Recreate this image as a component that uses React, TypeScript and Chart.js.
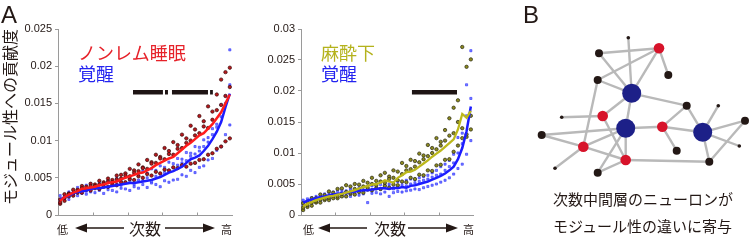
import React, { useEffect, useRef } from "react";
import { Chart, registerables } from "chart.js";

Chart.register(...registerables);

// ---------- data ----------
const N = 40;
const yTicksLeft = ["0", "0.005", "0.01", "0.015", "0.02", "0.025"];
const yTicksRight = ["0", "0.005", "0.01", "0.015", "0.02", "0.025", "0.03"];
const xTickValues = [20, 40, 60, 80];

// Left: NREM sleep vs wake (mean lines)
const nremLine = [0.0019, 0.0024, 0.0027, 0.003, 0.0032, 0.0035, 0.0036, 0.0037, 0.0038, 0.004, 0.0041, 0.0043, 0.0044, 0.0045, 0.0048, 0.005, 0.0052, 0.0054, 0.0056, 0.0057, 0.006, 0.0063, 0.0067, 0.007, 0.0073, 0.0076, 0.0078, 0.0083, 0.0088, 0.0093, 0.0097, 0.0102, 0.0107, 0.011, 0.0116, 0.0122, 0.013, 0.0138, 0.015, 0.0162];
const wakeLineL = [0.0021, 0.0024, 0.0026, 0.0029, 0.0031, 0.0032, 0.0033, 0.0035, 0.0036, 0.0036, 0.0037, 0.0038, 0.0039, 0.004, 0.0041, 0.0042, 0.0043, 0.0043, 0.0044, 0.0045, 0.0046, 0.0047, 0.0049, 0.0051, 0.0054, 0.0057, 0.0059, 0.0062, 0.0065, 0.007, 0.0075, 0.0077, 0.008, 0.0086, 0.0093, 0.0102, 0.0112, 0.0125, 0.0145, 0.0163];
// Left: individual values
const nremA = [0.0021, 0.0028, 0.0029, 0.0034, 0.0034, 0.0039, 0.0038, 0.0042, 0.0041, 0.0046, 0.0044, 0.0049, 0.0047, 0.0053, 0.0054, 0.0056, 0.0062, 0.006, 0.0068, 0.0064, 0.0074, 0.0071, 0.0081, 0.0078, 0.009, 0.0086, 0.0098, 0.0094, 0.0108, 0.0103, 0.012, 0.0115, 0.0133, 0.0126, 0.0146, 0.0139, 0.0162, 0.0182, 0.0192, 0.0198];
const nremB = [0.0015, 0.0019, 0.0025, 0.0026, 0.003, 0.003, 0.0034, 0.0033, 0.0036, 0.0035, 0.0038, 0.0038, 0.0041, 0.004, 0.0044, 0.0044, 0.0048, 0.0047, 0.0052, 0.005, 0.0055, 0.0053, 0.0058, 0.0056, 0.0061, 0.006, 0.0064, 0.0063, 0.0067, 0.0065, 0.0069, 0.007, 0.0074, 0.0075, 0.0081, 0.0083, 0.0089, 0.0092, 0.0099, 0.0103];
const nremC = [0.0017, 0.0023, 0.0028, 0.0029, 0.0032, 0.0036, 0.0035, 0.0039, 0.0039, 0.0041, 0.0042, 0.0045, 0.0044, 0.0048, 0.0049, 0.0053, 0.0052, 0.0057, 0.0059, 0.0063, 0.0062, 0.0069, 0.007, 0.0076, 0.0075, 0.0082, 0.0081, 0.0089, 0.009, 0.0097, 0.01, 0.0107, 0.011, 0.0119, 0.0117, 0.0128, 0.0141, 0.0148, 0.016, 0.0172];
const wakeLA = [0.0026, 0.0027, 0.0031, 0.0032, 0.0037, 0.0036, 0.004, 0.0042, 0.0039, 0.0044, 0.0041, 0.0046, 0.0044, 0.0049, 0.0047, 0.0052, 0.005, 0.0055, 0.0053, 0.0059, 0.0056, 0.0062, 0.006, 0.0066, 0.0064, 0.0071, 0.0069, 0.0076, 0.0075, 0.0084, 0.0083, 0.0092, 0.0091, 0.0101, 0.0104, 0.0116, 0.0122, 0.0148, 0.016, 0.0222];
const wakeLB = [0.0016, 0.0021, 0.0021, 0.0026, 0.0026, 0.0029, 0.0028, 0.0031, 0.003, 0.0033, 0.0029, 0.0034, 0.0033, 0.0031, 0.0036, 0.0035, 0.0033, 0.0038, 0.0036, 0.0041, 0.0037, 0.0043, 0.0041, 0.0038, 0.0046, 0.0044, 0.0047, 0.0048, 0.0054, 0.0052, 0.006, 0.0057, 0.0064, 0.0066, 0.0074, 0.0076, 0.0087, 0.0092, 0.0108, 0.0121];
const wakeLC = [0.002, 0.0023, 0.0027, 0.0028, 0.003, 0.0034, 0.0032, 0.0036, 0.0037, 0.0035, 0.0039, 0.0037, 0.0041, 0.0042, 0.004, 0.0044, 0.0045, 0.0041, 0.0047, 0.0046, 0.005, 0.0045, 0.0052, 0.0055, 0.0057, 0.006, 0.0064, 0.0067, 0.007, 0.0073, 0.0079, 0.0082, 0.0086, 0.0092, 0.0098, 0.0108, 0.0118, 0.0132, 0.015, 0.0175];
// Left significance bar segments [from, to] on 0-100 degree-rank axis
const sigLeft = [[43.1, 60.3], [61.5, 63.2], [65.5, 86.2], [87.4, 89.0]];
const sigLeftY = 0.0165;

// Right: anesthesia vs wake (mean lines)
const anesLine = [0.0014, 0.0018, 0.0021, 0.0024, 0.0026, 0.0028, 0.003, 0.0031, 0.0033, 0.0034, 0.0036, 0.0038, 0.004, 0.0043, 0.0045, 0.0047, 0.0049, 0.005, 0.0052, 0.0056, 0.0054, 0.0052, 0.006, 0.0064, 0.0069, 0.007, 0.0073, 0.0078, 0.0083, 0.0088, 0.0094, 0.0099, 0.0104, 0.011, 0.0116, 0.0122, 0.0138, 0.0163, 0.0157, 0.0168];
const wakeLineR = [0.002, 0.0023, 0.0025, 0.0027, 0.0029, 0.003, 0.0032, 0.0033, 0.0034, 0.0035, 0.0036, 0.0037, 0.0038, 0.0039, 0.004, 0.004, 0.0041, 0.0042, 0.0043, 0.0043, 0.0042, 0.0044, 0.0043, 0.0045, 0.0044, 0.0047, 0.0048, 0.005, 0.0052, 0.0054, 0.0057, 0.006, 0.0063, 0.0067, 0.0072, 0.0078, 0.009, 0.0108, 0.0135, 0.0175];
// Right: individual values
const anesA = [0.0019, 0.0021, 0.0027, 0.0027, 0.0033, 0.0032, 0.0038, 0.0036, 0.0042, 0.0043, 0.0048, 0.0046, 0.005, 0.0049, 0.0055, 0.0052, 0.006, 0.0055, 0.0064, 0.0068, 0.0062, 0.0072, 0.007, 0.0084, 0.0079, 0.0089, 0.0087, 0.0099, 0.0096, 0.0113, 0.0108, 0.0124, 0.0118, 0.0137, 0.0156, 0.0173, 0.0185, 0.0271, 0.0239, 0.0251];
const anesB = [0.0008, 0.0013, 0.0015, 0.002, 0.002, 0.0024, 0.0024, 0.0027, 0.0027, 0.003, 0.003, 0.0034, 0.0033, 0.0037, 0.0036, 0.0041, 0.004, 0.0043, 0.0042, 0.0047, 0.0044, 0.0049, 0.0048, 0.0054, 0.0053, 0.006, 0.0058, 0.0065, 0.0064, 0.0072, 0.0071, 0.008, 0.0081, 0.0089, 0.009, 0.0102, 0.0112, 0.0124, 0.0126, 0.0138];
const anesC = [0.0012, 0.0016, 0.002, 0.0022, 0.0025, 0.0026, 0.0028, 0.0032, 0.003, 0.0034, 0.0037, 0.0036, 0.0042, 0.004, 0.0046, 0.0044, 0.005, 0.0048, 0.0054, 0.0052, 0.0058, 0.006, 0.0056, 0.0066, 0.0072, 0.0074, 0.0078, 0.0085, 0.009, 0.0095, 0.01, 0.0106, 0.0112, 0.012, 0.0128, 0.0132, 0.015, 0.014, 0.013, 0.016];
const wakeRA = [0.0024, 0.0026, 0.0028, 0.003, 0.0033, 0.0034, 0.0036, 0.0037, 0.0038, 0.004, 0.0039, 0.0042, 0.0041, 0.0044, 0.0045, 0.0043, 0.0047, 0.0046, 0.0049, 0.0048, 0.005, 0.0052, 0.0054, 0.0053, 0.0056, 0.0058, 0.0057, 0.006, 0.0062, 0.0064, 0.0068, 0.0072, 0.0078, 0.0082, 0.0088, 0.0098, 0.0125, 0.0132, 0.021, 0.0265];
const wakeRB = [0.0016, 0.0019, 0.0021, 0.0023, 0.0024, 0.0026, 0.0027, 0.0028, 0.0029, 0.003, 0.0031, 0.003, 0.0033, 0.0032, 0.0034, 0.002, 0.0035, 0.0036, 0.0034, 0.0037, 0.003, 0.0036, 0.0038, 0.0037, 0.0039, 0.004, 0.0042, 0.0041, 0.0044, 0.0046, 0.0048, 0.005, 0.0053, 0.0056, 0.006, 0.0066, 0.0075, 0.0082, 0.0098, 0.012];
const wakeRC = [0.002, 0.0022, 0.0026, 0.0025, 0.0028, 0.0031, 0.003, 0.0034, 0.0032, 0.0036, 0.0035, 0.0038, 0.0036, 0.004, 0.0038, 0.0041, 0.0039, 0.0043, 0.0041, 0.0044, 0.0046, 0.0042, 0.0046, 0.0048, 0.0047, 0.005, 0.0052, 0.0054, 0.0056, 0.0058, 0.0061, 0.0064, 0.0066, 0.0072, 0.0078, 0.0084, 0.01, 0.0115, 0.016, 0.0188];
const sigRight = [[64.5, 90.7]];
const sigRightY = 0.0198;

// Network (panel B)
const nodeX = [128.3, 159, 99, 168.3, 97.7, 131.7, 186.7, 218.3, 102.7, 61.7, 125.7, 162.3, 202.7, 245, 41.7, 83.3, 239.3, 176.7, 125.7, 209.3, 55, 97.7];
const nodeY = [37.7, 48.3, 53.3, 75, 80, 93.3, 105.7, 105.7, 116, 117.3, 128.3, 126.7, 132.3, 120.7, 135, 146.7, 146, 150.7, 160, 161.7, 168.3, 172.7];
const nodeKind = ["leaf", "mid", "low", "low", "low", "hub", "low", "leaf", "mid", "leaf", "hub", "mid", "hub", "low", "low", "mid", "leaf", "low", "mid", "low", "leaf", "low"];
const edges = [[1, 6], [6, 11], [11, 19], [3, 2], [3, 6], [5, 2], [2, 4], [2, 6], [5, 6], [5, 16], [6, 7], [6, 9], [9, 10], [9, 19], [11, 12], [11, 15], [11, 16], [11, 22], [15, 16], [16, 19], [16, 21], [19, 22], [19, 20], [12, 7], [12, 13], [12, 18], [7, 13], [13, 8], [13, 14], [13, 17], [13, 20], [14, 20]];

// ---------- helpers ----------
const xOf = (i: number) => ((i + 0.5) * 100) / N;
const pts = (arr: number[]) => arr.map((v, i) => ({ x: xOf(i), y: v }));
const NUM_FONT = "'Liberation Sans', Arial, sans-serif";
const JP_FONT = "'Noto Sans CJK JP', 'Noto Sans', sans-serif";
const AXIS = "#9a9a9a";
const INK = "#231815";

const arrowPlugin = {
  id: "degreeArrows",
  afterDraw(chart: any) {
    const { ctx, chartArea, scales } = chart;
    ctx.save();
    ctx.strokeStyle = AXIS;
    ctx.lineWidth = 1;
    xTickValues.forEach((v) => {
      const px = Math.round(scales.x.getPixelForValue(v)) + 0.5;
      ctx.beginPath();
      ctx.moveTo(px, chartArea.bottom);
      ctx.lineTo(px, chartArea.bottom - 2.5);
      ctx.stroke();
    });
    const y = chartArea.bottom + 13;
    const l = chartArea.left;
    ctx.strokeStyle = INK;
    ctx.fillStyle = INK;
    ctx.lineWidth = 1.6;
    const head = (tip: number, dir: number) => {
      ctx.beginPath();
      ctx.moveTo(tip, y);
      ctx.lineTo(tip - dir * 12, y - 4.5);
      ctx.lineTo(tip - dir * 12, y + 4.5);
      ctx.closePath();
      ctx.fill();
    };
    ctx.beginPath();
    ctx.moveTo(l + 26, y);
    ctx.lineTo(l + 66, y);
    ctx.moveTo(l + 107, y);
    ctx.lineTo(l + 148, y);
    ctx.stroke();
    head(l + 17, -1);
    head(l + 157, 1);
    ctx.restore();
  },
};

function buildPanel(
  lines: { data: number[]; color: string; width: number }[],
  scatters: { data: number[][]; style: any }[],
  sig: number[][],
  sigY: number,
  yMax: number,
  yLabels: string[],
  axisWidth: number,
  rightPad: number,
  showTitle: boolean
) {
  const datasets: any[] = [];
  lines.forEach((ln) =>
    datasets.push({
      data: pts(ln.data),
      showLine: true,
      borderColor: ln.color,
      borderWidth: ln.width,
      pointRadius: 0,
      fill: false,
    })
  );
  sig.forEach((s) =>
    datasets.push({
      data: [
        { x: s[0], y: sigY },
        { x: s[1], y: sigY },
      ],
      showLine: true,
      borderColor: "#1e1414",
      borderWidth: 4.5,
      pointRadius: 0,
    })
  );
  scatters.forEach((sc) =>
    datasets.push({
      data: sc.data.flatMap((arr) => pts(arr)),
      showLine: false,
      ...sc.style,
    })
  );
  return {
    type: "scatter",
    data: { datasets },
    options: {
      animation: false,
      responsive: false,
      events: [],
      layout: { padding: { top: 29, right: rightPad, left: 0, bottom: 0 }, autoPadding: false },
      plugins: { legend: { display: false }, tooltip: { enabled: false } },
      scales: {
        x: {
          type: "linear",
          min: 0,
          max: 100,
          afterFit: (s: any) => {
            s.height = 25;
          },
          grid: { display: false },
          border: { color: AXIS, width: 1 },
          ticks: { display: false },
        },
        y: {
          type: "linear",
          min: 0,
          max: yMax,
          afterFit: (s: any) => {
            s.width = axisWidth;
          },
          afterBuildTicks: (s: any) => {
            s.ticks = yLabels.map((_, i) => ({ value: i * 0.005 }));
          },
          grid: { drawOnChartArea: false, tickLength: 3, color: AXIS },
          border: { color: AXIS, width: 1 },
          ticks: {
            padding: 3,
            color: INK,
            font: { family: NUM_FONT, size: 11 },
            callback: (_v: any, i: number) => yLabels[i],
          },
          title: {
            display: showTitle,
            text: "モジュール性への貢献度",
            align: "end",
            color: INK,
            font: { family: JP_FONT, size: 16 },
            padding: { top: 0, bottom: 0 },
          },
        },
      },
    },
    plugins: [arrowPlugin],
  };
}

const redDot = { pointStyle: "circle", pointRadius: 1.7, backgroundColor: "#b8181c", borderColor: "#3a0c0c", borderWidth: 0.7 };
const blueDot = { pointStyle: "rect", pointRadius: 1.5, backgroundColor: "#7b86ff", borderColor: "#2a2aff", borderWidth: 0.6 };
const oliveDot = { pointStyle: "circle", pointRadius: 1.7, backgroundColor: "#8c8a1e", borderColor: "#2a2814", borderWidth: 0.7 };

function useChart(ref: React.RefObject<HTMLCanvasElement>, make: () => any) {
  useEffect(() => {
    if (!ref.current) return;
    const chart = new Chart(ref.current, make());
    return () => chart.destroy();
  }, []);
}

function Label(props: { x: number; y: number; size: number; color?: string; font?: string; children: React.ReactNode }) {
  return (
    <span
      style={{
        position: "absolute",
        left: props.x,
        top: props.y,
        fontSize: props.size,
        lineHeight: 1,
        color: props.color || INK,
        fontFamily: props.font || JP_FONT,
        whiteSpace: "nowrap",
      }}
    >
      {props.children}
    </span>
  );
}

export default function App() {
  const leftRef = useRef<HTMLCanvasElement>(null);
  const rightRef = useRef<HTMLCanvasElement>(null);
  const netRef = useRef<HTMLCanvasElement>(null);

  useChart(leftRef, () =>
    buildPanel(
      [
        { data: nremLine, color: "#ff1c1c", width: 2.5 },
        { data: wakeLineL, color: "#1c1cff", width: 2.5 },
      ],
      [
        { data: [nremA, nremB, nremC], style: redDot },
        { data: [wakeLA, wakeLB, wakeLC], style: blueDot },
      ],
      sigLeft,
      sigLeftY,
      0.025,
      yTicksLeft,
      58,
      18,
      true
    )
  );

  useChart(rightRef, () =>
    buildPanel(
      [
        { data: anesLine, color: "#bcb81c", width: 2.3 },
        { data: wakeLineR, color: "#1c1cff", width: 2.5 },
      ],
      [
        { data: [anesA, anesB, anesC], style: oliveDot },
        { data: [wakeRA, wakeRB, wakeRC], style: blueDot },
      ],
      sigRight,
      sigRightY,
      0.03,
      yTicksRight,
      51,
      27,
      false
    )
  );

  useChart(netRef, () => {
    const radius = { hub: 9.5, mid: 5.3, low: 4, leaf: 1.8 } as any;
    const color = { hub: "#1d2088", mid: "#d7132a", low: INK, leaf: INK } as any;
    const edgeSets = edges.map((e) => ({
      data: [
        { x: nodeX[e[0] - 1], y: nodeY[e[0] - 1] },
        { x: nodeX[e[1] - 1], y: nodeY[e[1] - 1] },
      ],
      showLine: true,
      borderColor: "#b9b9b9",
      borderWidth: 2.4,
      pointRadius: 0,
    }));
    return {
      type: "scatter",
      data: {
        datasets: [
          {
            data: nodeX.map((x, i) => ({ x, y: nodeY[i] })),
            pointRadius: nodeKind.map((k) => radius[k]),
            backgroundColor: nodeKind.map((k) => color[k]),
            borderWidth: 0,
          },
          ...edgeSets,
        ],
      },
      options: {
        animation: false,
        responsive: false,
        events: [],
        layout: { padding: 0, autoPadding: false },
        plugins: { legend: { display: false }, tooltip: { enabled: false } },
        scales: {
          x: { type: "linear", min: 0, max: 250, display: false },
          y: { type: "linear", min: 0, max: 240, reverse: true, display: false },
        },
      },
    };
  });

  return (
    <div style={{ position: "fixed", left: 0, top: 0, width: 750, height: 240, background: "#fff", overflow: "hidden" }}>
      <canvas ref={leftRef} width={250} height={240} style={{ position: "absolute", left: 0, top: 0 }} />
      <canvas ref={rightRef} width={250} height={240} style={{ position: "absolute", left: 250, top: 0 }} />
      <canvas ref={netRef} width={250} height={240} style={{ position: "absolute", left: 500, top: 0 }} />

      <Label x={1} y={3} size={24} font={NUM_FONT}>A</Label>
      <Label x={78} y={43} size={18} color="#e62129">ノンレム睡眠</Label>
      <Label x={78} y={64} size={18} color="#2424f0">覚醒</Label>
      <Label x={57} y={224} size={11}>低</Label>
      <Label x={129} y={220} size={16}>次数</Label>
      <Label x={221} y={224} size={11}>高</Label>

      <Label x={321} y={43} size={18} color="#b4b21c">麻酔下</Label>
      <Label x={321} y={64} size={18} color="#2424f0">覚醒</Label>
      <Label x={303} y={224} size={11}>低</Label>
      <Label x={374} y={220} size={16}>次数</Label>
      <Label x={463} y={224} size={11}>高</Label>

      <Label x={523} y={3} size={24} font={NUM_FONT}>B</Label>
      <Label x={553} y={191} size={15}>次数中間層のニューロンが</Label>
      <Label x={553} y={218} size={15}>モジュール性の違いに寄与</Label>
    </div>
  );
}
